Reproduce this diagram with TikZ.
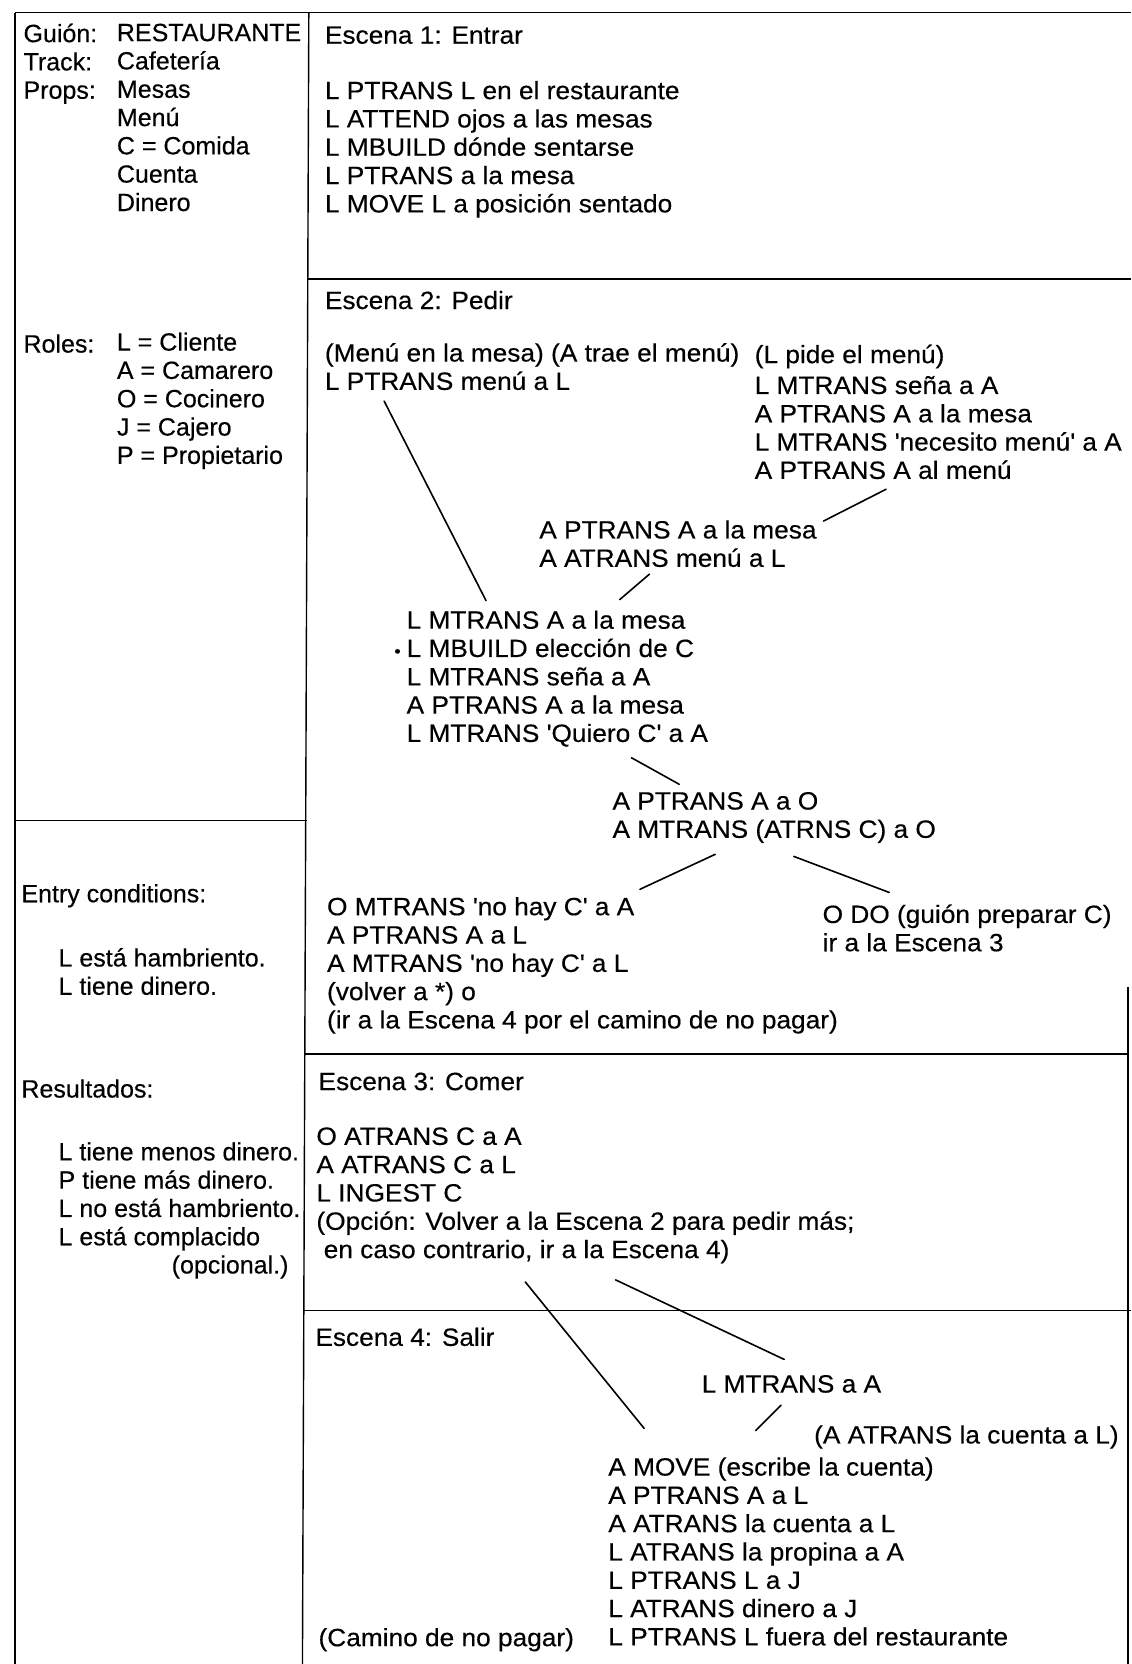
\documentclass[tikz,border=0pt]{standalone}
\usepackage{fontspec}
\setmainfont[FakeBold=0.35]{Liberation Sans}
\newfontfamily\widefont[FakeStretch=1.05,FakeBold=0.35]{Liberation Sans}
\newcommand\qs{\textquotesingle}
\newcommand\txtfont{\fontsize{25}{28.3}\selectfont}
\newcommand\widetxtfont{\widefont\fontsize{25}{28.3}\selectfont}
\begin{document}
\begin{tikzpicture}[x=1.061pt,y=-1.061pt,
  txt/.style={anchor=north west,inner sep=0pt,align=left,yshift=20pt,
    font=\txtfont,execute at begin node={\rule{0pt}{20pt}}},
  wtxt/.style={txt,font=\widetxtfont},
  rule/.style={line width=1.4pt},
  link/.style={line width=1.6pt,line cap=round}]
\useasboundingbox (0,0) rectangle (1066,1568);

% ---- frame and dividers ----
\draw[rule] (14,12) -- (1066,12);
\draw[rule] (14,12) -- (14,1568);
\draw[rule] (291,12) -- (285,1568);
\draw[rule] (14,773) -- (289,773);
\draw[rule] (290,263) -- (1066,263);
\draw[rule] (286,993) -- (1064,993);
\draw[rule] (286,1235) -- (1066,1235);
\draw[rule] (1063,930) -- (1063,1568);

% ---- left column ----
\node[txt] (guionL) at (22,41) {Guión:\\Track:\\Props:};
\node[txt] (guionR) at (110,41) {RESTAURANTE\\Cafetería\\Mesas\\Menú\\C = Comida\\Cuenta\\Dinero};
\node[txt] (rolesL) at (22,332) {Roles:};
\node[txt] (rolesR) at (110,332) {L = Cliente\\A = Camarero\\O = Cocinero\\J = Cajero\\P = Propietario};
\node[txt] (entry) at (20,850) {Entry conditions:};
\node[txt] (entryc) at (55,912) {L está hambriento.\\L tiene dinero.};
\node[txt] (result) at (20,1034) {Resultados:};
\node[txt] (resultc) at (55,1095) {L tiene menos dinero.\\P tiene más dinero.\\L no está hambriento.\\L está complacido};
\node[anchor=base east,inner sep=0pt,font=\txtfont] (opc) at (272,1200) {(opcional.)};

% ---- Escena 1 ----
\node[wtxt] (e1h) at (306,41) {Escena 1: Entrar};
\node[wtxt] (e1) at (306,95) {L PTRANS L en el restaurante\\L ATTEND ojos a las mesas\\L MBUILD dónde sentarse\\L PTRANS a la mesa\\L MOVE L a posición sentado};

% ---- Escena 2 ----
\node[wtxt] (e2h) at (306,291) {Escena 2: Pedir};
\node[wtxt] (menu) at (306,342) {(Menú en la mesa) (A trae el menú)\\L PTRANS menú a L};
\node[wtxt] (pide) at (711,342) {(L pide el menú)};
\node[wtxt] (pideb) at (711,373) {L MTRANS seña a A\\A PTRANS A a la mesa\\L MTRANS \qs necesito menú\qs{} a A\\A PTRANS A al menú};
\node[wtxt] (trae) at (508,509) {A PTRANS A a la mesa\\A ATRANS menú a L};
\node[wtxt] (elige) at (383,594) {L MTRANS A a la mesa\\\llap{{\fontsize{17}{17}\selectfont\textbullet}\hspace{6pt}}L MBUILD elección de C\\L MTRANS seña a A\\A PTRANS A a la mesa\\L MTRANS \qs Quiero C\qs{} a A};
\node[wtxt] (cocina) at (577,765) {A PTRANS A a O\\A MTRANS (ATRNS C) a O};
\node[wtxt] (nohay) at (308,864) {O MTRANS \qs no hay C\qs{} a A\\A PTRANS A a L\\A MTRANS \qs no hay C\qs{} a L\\(volver a *) o\\(ir a la Escena 4 por el camino de no pagar)};
\node[wtxt] (prep) at (775,871) {O DO (guión preparar C)\\ir a la Escena 3};

% ---- Escena 3 ----
\node[wtxt] (e3h) at (300,1027) {Escena 3: Comer};
\node[wtxt] (comer) at (298,1081) {O ATRANS C a A\\A ATRANS C a L\\L INGEST C\\(Opción: Volver a la Escena 2 para pedir más;\\\ en caso contrario, ir a la Escena 4)};

% ---- Escena 4 ----
\node[wtxt] (e4h) at (297,1268) {Escena 4: Salir};
\node[wtxt] (avisa) at (661,1312) {L MTRANS a A};
\node[wtxt] (cuenta) at (767,1360) {(A ATRANS la cuenta a L)};
\node[wtxt] (pagar) at (573,1392) {A MOVE (escribe la cuenta)\\A PTRANS A a L\\A ATRANS la cuenta a L\\L ATRANS la propina a A\\L PTRANS L a J\\L ATRANS dinero a J\\L PTRANS L fuera del restaurante};
\node[wtxt] (nopagar) at (300,1551) {(Camino de no pagar)};

% ---- connectors ----
\coordinate (m1) at (362,378);  \coordinate (m2) at (458,566);
\coordinate (p1) at (835,461);  \coordinate (p2) at (776,491);
\coordinate (t1) at (612,541);  \coordinate (t2) at (584,565);
\coordinate (q1) at (595,714);  \coordinate (q2) at (640,739);
\coordinate (k1) at (674,805);  \coordinate (k2) at (603,838);
\coordinate (k3) at (748,807);  \coordinate (k4) at (838,841);
\coordinate (s1) at (495,1208); \coordinate (s2) at (607,1346);
\coordinate (s3) at (580,1206); \coordinate (s4) at (739,1281);
\coordinate (a1) at (736,1324); \coordinate (a2) at (712,1348);
\draw[link] (m1) -- (m2);
\draw[link] (p1) -- (p2);
\draw[link] (t1) -- (t2);
\draw[link] (q1) -- (q2);
\draw[link] (k1) -- (k2);
\draw[link] (k3) -- (k4);
\draw[link] (s1) -- (s2);
\draw[link] (s3) -- (s4);
\draw[link] (a1) -- (a2);
\end{tikzpicture}
\end{document}
